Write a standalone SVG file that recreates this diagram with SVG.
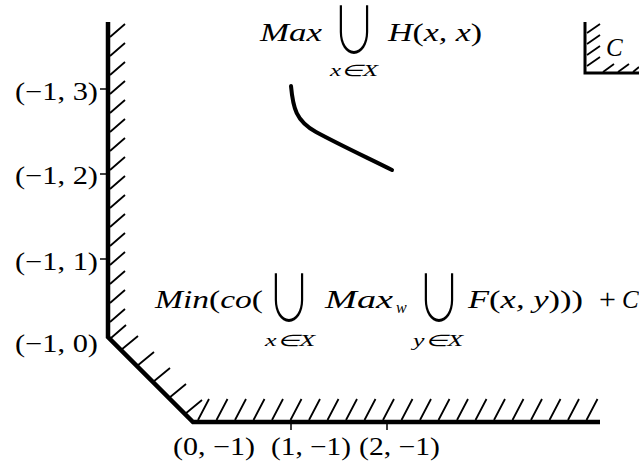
<svg xmlns="http://www.w3.org/2000/svg" width="639" height="461" viewBox="0 0 639 461">
<style>
.ax{fill:none;stroke:#000;stroke-width:4.5;stroke-linejoin:miter}
.h{fill:none;stroke:#000;stroke-width:1.8}
.tk{stroke:#000;stroke-width:1.5}
.lbl{font-family:"Liberation Serif",serif;font-size:25px;fill:#000}
.m{font-family:"Liberation Serif",serif;font-style:italic;font-size:25px;fill:#000}
.up{font-style:normal}
.sub{font-family:"Liberation Serif",serif;font-style:italic;font-size:16px;fill:#000}
.un{font-family:"Noto Sans CJK JP","DejaVu Sans",sans-serif;font-weight:200;font-size:44px;fill:#000}
</style>
<rect width="639" height="461" fill="#fff"/>
<g id="axes">
<path class="ax" d="M108,22 L108,337 L193,422 L600,422"/>
<path class="h" d="M110,37 l15,-13 M110,56 l15,-13 M110,75 l15,-13 M110,94 l15,-13 M110,113 l15,-13 M110,132 l15,-13 M110,151 l15,-13 M110,170 l15,-13 M110,189 l15,-13 M110,208 l15,-13 M110,227 l15,-13 M110,246 l15,-13 M110,265 l15,-13 M110,284 l15,-13 M110,303 l15,-13 M110,322 l15,-13 M111,338 l15,-13"/>
<path class="h" d="M121,350 l17,-14 M137,366 l17,-14 M153,382 l17,-14 M169,398 l17,-14 M185,414 l17,-14"/>
<path class="h" d="M198,420 l11,-21 M216.5,420 l11,-21 M235,420 l11,-21 M253.5,420 l11,-21 M272,420 l11,-21 M290.5,420 l11,-21 M309,420 l11,-21 M327.5,420 l11,-21 M346,420 l11,-21 M364.5,420 l11,-21 M383,420 l11,-21 M401.5,420 l11,-21 M420,420 l11,-21 M438.5,420 l11,-21 M457,420 l11,-21 M475.5,420 l11,-21 M494,420 l11,-21 M512.5,420 l11,-21 M531,420 l11,-21 M549.5,420 l11,-21 M568,420 l11,-21 M586.5,420 l11,-21"/>
<path class="tk" d="M100,89 H108 M100,174 H108 M100,259 H108 M291,422 V430 M387,422 V430"/>
</g>
<g id="axis-labels">
<text class="lbl" x="15" y="100" textLength="83" lengthAdjust="spacingAndGlyphs">(−1, 3)</text>
<text class="lbl" x="15" y="184" textLength="83" lengthAdjust="spacingAndGlyphs">(−1, 2)</text>
<text class="lbl" x="15" y="270" textLength="83" lengthAdjust="spacingAndGlyphs">(−1, 1)</text>
<text class="lbl" x="15" y="352" textLength="83" lengthAdjust="spacingAndGlyphs">(−1, 0)</text>
<text class="lbl" x="173" y="455" textLength="82" lengthAdjust="spacingAndGlyphs">(0, −1)</text>
<text class="lbl" x="271" y="455" textLength="80" lengthAdjust="spacingAndGlyphs">(1, −1)</text>
<text class="lbl" x="359" y="455" textLength="81" lengthAdjust="spacingAndGlyphs">(2, −1)</text>
</g>
<g id="curve">
<path d="M291,86 C293,108 296,121 316,132 C342,146 366,157 392,170" fill="none" stroke="#000" stroke-width="4" stroke-linecap="round"/>
</g>
<g id="cone-C">
<path d="M585,22 V73 H639" fill="none" stroke="#000" stroke-width="3"/>
<path class="h" d="M587,33 l13,-9 M587,44 l13,-9 M587,55 l13,-9 M587,66 l13,-9 M603,72 l11,-8 M618,72 l11,-8 M633,72 l6,-5"/>
<text class="m" x="606" y="56" font-size="23">C</text>
</g>
<g id="label-max">
<text class="m" x="260" y="41" textLength="62" lengthAdjust="spacingAndGlyphs">Max</text>
<text class="un" transform="translate(332,53) scale(1,1.4545)">∪</text>
<text class="sub" x="330" y="76" textLength="48" lengthAdjust="spacingAndGlyphs">x∈X</text>
<text class="m" x="388" y="41" textLength="94" lengthAdjust="spacingAndGlyphs">H<tspan class="up">(</tspan>x, x<tspan class="up">)</tspan></text>
</g>
<g id="label-min">
<text class="m" x="155" y="308" textLength="108" lengthAdjust="spacingAndGlyphs">Min<tspan class="up">(</tspan>co<tspan class="up">(</tspan></text>
<text class="un" transform="translate(267,321) scale(1,1.4545)">∪</text>
<text class="sub" x="265" y="346" textLength="50" lengthAdjust="spacingAndGlyphs">x∈X</text>
<text class="m" x="325" y="308" textLength="68" lengthAdjust="spacingAndGlyphs">Max</text>
<text class="sub" x="396" y="313">w</text>
<text class="un" transform="translate(417,321) scale(1,1.4545)">∪</text>
<text class="sub" x="413" y="346" textLength="50" lengthAdjust="spacingAndGlyphs">y∈X</text>
<text class="m" x="468" y="308" textLength="115" lengthAdjust="spacingAndGlyphs">F<tspan class="up">(</tspan>x, y<tspan class="up">)))</tspan></text>
<text x="599" y="309" font-family="Liberation Serif, serif" font-size="30" fill="#000">+</text>
<text class="m" x="622" y="308" font-size="26">C</text>
</g>
</svg>
